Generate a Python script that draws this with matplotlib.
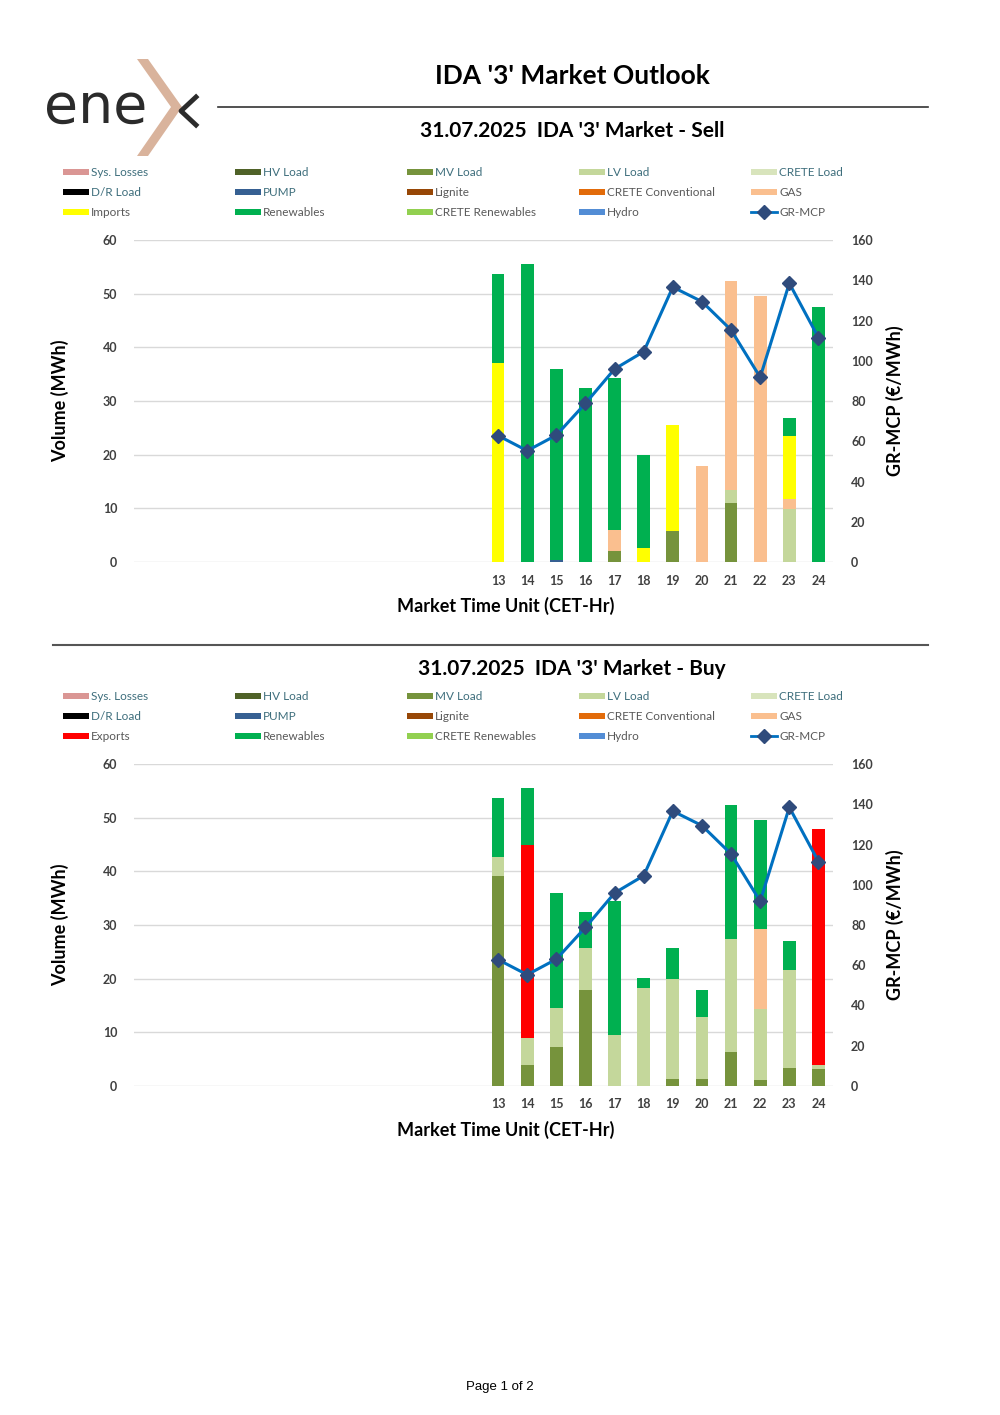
import matplotlib
matplotlib.use("Agg")
from matplotlib import pyplot as plt
from matplotlib.patches import Rectangle, Polygon
from matplotlib.lines import Line2D

W, H = 1000, 1415

hours = [13, 14, 15, 16, 17, 18, 19, 20, 21, 22, 23, 24]
mcp = [62.8, 55.3, 63.0, 78.8, 95.9, 104.5, 136.6, 129.4, 115.3, 91.8, 138.5, 111.5]  # €/MWh
zeros = [0] * 12

# Sell side (MWh)
sell_mv = [0, 0, 0, 0, 2.0, 0, 5.8, 0, 11.0, 0, 0, 0]
sell_lv = [0, 0, 0, 0, 0, 0, 0, 0, 2.5, 0, 9.8, 0]
sell_pump = [0, 0, 0.3, 0, 0, 0, 0, 0, 0, 0, 0, 0]
sell_gas = [0, 0, 0, 0, 3.9, 0, 0, 17.8, 38.9, 49.5, 2.0, 0]
sell_imports = [37.0, 0, 0, 0, 0, 2.7, 19.8, 0, 0, 0, 11.7, 0]
sell_renew = [16.6, 55.5, 35.7, 32.4, 28.4, 17.3, 0, 0, 0, 0, 3.4, 47.6]

# Buy side (MWh)
buy_mv = [39.2, 4.0, 7.3, 17.9, 0, 0, 1.3, 1.3, 6.3, 1.1, 3.3, 3.1]
buy_lv = [3.5, 4.9, 7.2, 7.9, 9.5, 18.2, 18.6, 11.6, 21.0, 13.3, 18.4, 0.9]
buy_gas = [0, 0, 0, 0, 0, 0, 0, 0, 0, 14.9, 0, 0]
buy_exports = [0, 36.1, 0, 0, 0, 0, 0, 0, 0, 0, 0, 43.8]
buy_renew = [10.9, 10.5, 21.5, 6.7, 24.9, 1.9, 5.8, 5.0, 25.1, 20.3, 5.3, 0]

names_sell = ["Sys. Losses", "HV Load", "MV Load", "LV Load", "CRETE Load",
              "D/R Load", "PUMP", "Lignite", "CRETE Conventional", "GAS",
              "Imports", "Renewables", "CRETE Renewables", "Hydro"]
names_buy = names_sell[:10] + ["Exports"] + names_sell[11:]
colors = ["#DA9694", "#4F6228", "#76933C", "#C4D79B", "#D8E4BC",
          "#000000", "#366092", "#974706", "#E26B0A", "#FABF8F",
          None, "#00B050", "#92D050", "#538DD5"]
teal = "#3E6E7C"
grey = "#595959"
text_cols = [teal] * 7 + [grey] * 7

sell_series = [zeros, zeros, sell_mv, sell_lv, zeros, zeros, sell_pump, zeros,
               zeros, sell_gas, sell_imports, sell_renew, zeros, zeros]
buy_series = [zeros, zeros, buy_mv, buy_lv, zeros, zeros, zeros, zeros,
              zeros, buy_gas, buy_exports, buy_renew, zeros, zeros]

FONT = "Lato"
fig = plt.figure(figsize=(W / 100, H / 100), dpi=100)


def fx(x):
    return x / W


def fy(y):
    return 1 - y / H


def rect(x0, y0, x1, y1):
    return [fx(x0), fy(y1), (x1 - x0) / W, (y1 - y0) / H]


# logo
fig.text(fx(44), fy(108), "ene", fontsize=40, color="#2B2B2B", family="DejaVu Sans",
         va="center", ha="left")
fig.patches.append(Polygon([(fx(137), fy(59)), (fx(148), fy(59)), (fx(182), fy(107)),
                            (fx(148), fy(156)), (fx(137), fy(156)), (fx(171), fy(107))],
                           closed=True, transform=fig.transFigure, color="#D9B39C", lw=0))
fig.lines.append(Line2D([fx(196), fx(181), fx(196)], [fy(97), fy(111), fy(125)],
                        transform=fig.transFigure, color="#2B2B2B", lw=3.5))

fig.text(fx(572), fy(76), "IDA '3' Market Outlook", fontsize=19, weight="bold",
         family=FONT, ha="center", va="center", color="black")
fig.lines.append(Line2D([fx(218), fx(928)], [fy(107), fy(107)],
                        transform=fig.transFigure, color="#333333", lw=1.2))
fig.lines.append(Line2D([fx(53), fx(928)], [fy(645), fy(645)],
                        transform=fig.transFigure, color="#555555", lw=1.5))
fig.text(fx(500), fy(1387), "Page 1 of 2", fontsize=9.5, family="Liberation Sans",
         ha="center", va="center", color="black")


def panel(top, title_y, title, names, series, third_color):
    fig.text(fx(572), fy(title_y), title, fontsize=15, weight="bold",
             family=FONT, ha="center", va="center", color="black")
    # legend
    for i, name in enumerate(names + ["GR-MCP"]):
        row, col = i // 5, i % 5
        x = 63 + 172 * col
        y = top - 68 + 20 * row
        if name == "GR-MCP":
            fig.lines.append(Line2D([fx(x), fx(x + 13), fx(x + 26)], [fy(y)] * 3,
                                    transform=fig.transFigure, color="#0070C0", lw=2,
                                    marker="D", markevery=[1], ms=7,
                                    mfc="#2F4B7C", mec="#2F4B7C"))
        else:
            c = colors[i] if colors[i] else third_color
            fig.patches.append(Rectangle((fx(x), fy(y + 3)), 26 / W, 6 / H,
                                         transform=fig.transFigure, color=c, lw=0))
        fig.text(fx(x + 28), fy(y), name, fontsize=8.5, family=FONT,
                 color=text_cols[i] if i < 14 else grey, va="center", ha="left")

    ax = fig.add_axes(rect(134, top, 833, top + 322))
    bottom = [0] * 12
    for i, vals in enumerate(series):
        c = colors[i] if colors[i] else third_color
        ax.bar(hours, vals, width=0.44, bottom=bottom, color=c, lw=0, zorder=2)
        bottom = [b + v for b, v in zip(bottom, vals)]
    ax.set_xlim(0.5, 24.5)
    ax.set_ylim(0, 60)
    ax.set_yticks(range(0, 61, 10))
    ax.set_xticks(hours)
    ax.grid(axis="y", color="#D9D9D9", lw=1, zorder=0)
    ax.set_axisbelow(True)
    for s in ax.spines.values():
        s.set_visible(False)
    ax.tick_params(length=0, labelsize=9, labelcolor="#404040")
    ax.tick_params(axis="y", pad=12)
    ax.tick_params(axis="x", pad=9)
    for lab in ax.get_xticklabels() + ax.get_yticklabels():
        lab.set_fontweight("bold")
        lab.set_family(FONT)

    ax2 = ax.twinx()
    ax2.plot(hours, mcp, color="#0070C0", lw=2.2, marker="D", ms=7,
             mfc="#2F4B7C", mec="#2F4B7C", zorder=3)
    ax2.set_ylim(0, 160)
    ax2.set_yticks(range(0, 161, 20))
    for s in ax2.spines.values():
        s.set_visible(False)
    ax2.tick_params(length=0, labelsize=9, labelcolor="#404040", pad=13)
    for lab in ax2.get_yticklabels():
        lab.set_fontweight("bold")
        lab.set_family(FONT)

    fig.text(fx(60), fy(top + 161), "Volume (MWh)", rotation=90, fontsize=13,
             weight="bold", family=FONT, ha="center", va="center")
    fig.text(fx(895), fy(top + 161), "GR-MCP (€/MWh)", rotation=90, fontsize=13,
             weight="bold", family=FONT, ha="center", va="center")
    fig.text(fx(506), fy(top + 366), "Market Time Unit (CET-Hr)", fontsize=13,
             weight="bold", family=FONT, ha="center", va="center")


panel(240, 131, "31.07.2025  IDA '3' Market - Sell", names_sell, sell_series, "#FFFF00")
panel(764, 669, "31.07.2025  IDA '3' Market - Buy", names_buy, buy_series, "#FF0000")

fig.savefig("out.png", dpi=100)
